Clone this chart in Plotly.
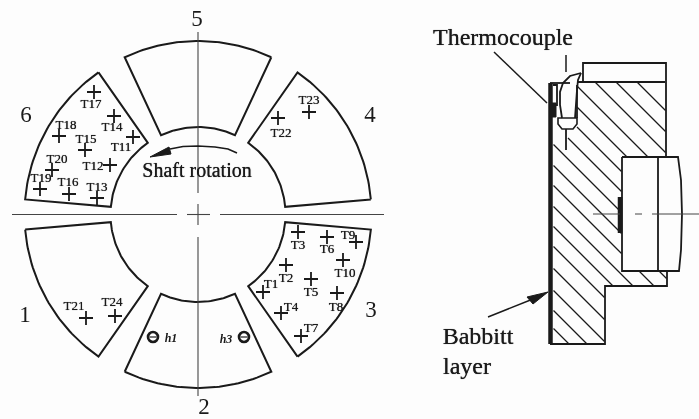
import numpy as np
import plotly.graph_objects as go

INK = "#1a1a1a"
SERIF = "Liberation Serif"
HEAVY = "0 0 0.7px #1a1a1a"

# ---- left view: six pads around the shaft centre ----
centre = (198, 214.5)
r_inner, r_outer = 87.5, 173.5
pad_start_deg = [5, 65, 125, 185, 245, 305]
pad_span_deg = 50

pad_numbers = ["4", "5", "6", "1", "2", "3"]
pad_number_x = [370, 197, 26, 25, 204, 371]
pad_number_y = [116, 20, 116, 316, 408, 311]

sensor_names = ["T1","T2","T3","T4","T5","T6","T7","T8","T9","T10","T11","T12",
                "T13","T14","T15","T16","T17","T18","T19","T20","T21","T22","T23","T24"]
sensor_x = [263,286,298,281,311,327,301,337,356,343,133,110,97,114,85,69,94,59,40,52,86,278,309,115]
sensor_y = [292,265,232,313,279,237,336,293,242,260,137,165,198,116,150,194,92,136,189,170,318,118,112,316]
label_x = [271,286,298,291,311,327,311,336,348,345,121,93,97,112,86,68,91,66,41,57,74,281,309,112]
label_y = [285,279,246,308,293,250,329,308,236,274,148,167,188,128,140,183,105,126,179,160,307,134,101,303]

probe_x = [153, 244]
probe_y = [337, 337]
probe_names = ["h1", "h3"]
probe_label_x = [171, 226]
probe_label_y = [339, 340]

rotation_x = [237, 228, 215, 198, 183, 170]
rotation_y = [153, 149, 147, 146, 146.5, 149]
rotation_head_x = [150, 169, 171, 150]
rotation_head_y = [157, 147, 154, 157]

centre_v_x = [[198, 198], [198, 198], [198, 198]]
centre_v_y = [[32, 193], [204, 225], [237, 396]]
centre_h_x = [[12, 177], [187, 210], [220, 384]]
centre_h_y = [[214.5, 214.5]] * 3

# ---- right view: bearing section ----
section_outlines = [
    ([550, 570], [83, 83]),
    ([577, 665], [82, 82]),
    ([583, 583, 666, 666], [82, 63, 63, 157]),
    ([622, 678, 681, 682, 681, 679, 623, 622, 622], [157, 157, 180, 214, 250, 271, 271, 271, 157]),
    ([658, 658], [157, 271]),
    ([667, 667, 605, 605, 550], [271, 286, 286, 344, 344]),
    ([577, 577], [85, 118]),
    ([553, 557, 557, 553], [85, 85, 105, 105]),
    ([566, 566], [129, 150]),
]
thick_x = [[550.5, 550.5], [620, 620]]
thick_y = [[83, 344], [197, 233]]
blob_x = [551, 556, 556, 551, 551]
blob_y = [103, 103, 117, 117, 103]

tc_left_x = [581, 570, 563, 560, 560, 562]
tc_left_y = [73, 76, 83, 92, 105, 118]
tc_right_x = [581, 578, 577, 576, 575]
tc_right_y = [73, 80, 90, 105, 118]
tc_nut_x = [558, 577, 577, 573, 562, 558, 558, 577]
tc_nut_y = [118, 118, 124, 129, 129, 124, 118, 118]

leader_x = [[494, 547], [566, 566], [488, 533]]
leader_y = [[52, 103], [55, 72], [317, 299]]
babbitt_head_x = [548, 527, 533, 548]
babbitt_head_y = [292, 297, 304, 292]

axis_dash_x = [[593, 620], [635, 642], [652, 699]]
axis_dash_y = [[214, 214]] * 3

hatch_offsets = [-555, -534, -513, -491, -470, -450, -430, -409, -388, -368,
                 -347, -327, -307, -285, -263, -243, -225]

text_labels = ["Thermocouple", "Babbitt", "layer", "Shaft rotation"]
text_x = [503, 478, 467, 197]
text_y = [39, 338, 368, 172]
text_sizes = [24, 24, 24, 20]


def in_section(x, y):
    body = ((553 < x < 666) and (82 < y < 157)) or ((553 < x < 622) and (157 <= y < 271)) \
        or ((553 < x < 667) and (271 <= y < 286)) or ((553 < x < 605) and (286 <= y < 344))
    hole = ((x < 577) and (y < 128)) or ((x < 568) and (y < 138))
    return body and not hole


def add_lines(fig, xs, ys, width=1.8, color=INK, fill=None):
    fig.add_trace(go.Scatter(x=xs, y=ys, mode="lines", hoverinfo="skip", showlegend=False,
                             line=dict(color=color, width=width), fill=fill,
                             fillcolor=color if fill else None))


fig = go.Figure()

# pads
for a0 in pad_start_deg:
    t_out = np.radians(np.linspace(a0, a0 + pad_span_deg, 40))
    t_in = t_out[::-1]
    xs = np.r_[centre[0] + r_outer * np.cos(t_out), centre[0] + r_inner * np.cos(t_in)]
    ys = np.r_[centre[1] - r_outer * np.sin(t_out), centre[1] - r_inner * np.sin(t_in)]
    add_lines(fig, np.r_[xs, xs[0]], np.r_[ys, ys[0]], width=2)

# centre lines
for xs, ys in zip(centre_v_x, centre_v_y):
    add_lines(fig, xs, ys, width=1.1, color="#444444")
for xs, ys in zip(centre_h_x, centre_h_y):
    add_lines(fig, xs, ys, width=1.1, color="#444444")

# rotation arrow
add_lines(fig, rotation_x, rotation_y, width=1.6)
add_lines(fig, rotation_head_x, rotation_head_y, width=1, fill="toself")

# hatching
for c in hatch_offsets:
    xs, ys = [], []
    inside = False
    for x in np.arange(548, 672, 0.5):
        y = x + c
        if in_section(x, y):
            xs.append(x); ys.append(y); inside = True
        elif inside:
            xs.append(None); ys.append(None); inside = False
    add_lines(fig, xs, ys, width=1.3)

# section
for xs, ys in section_outlines:
    add_lines(fig, xs, ys, width=1.8)
for xs, ys in zip(thick_x, thick_y):
    add_lines(fig, xs, ys, width=4.5)
add_lines(fig, blob_x, blob_y, width=1, fill="toself")
add_lines(fig, tc_left_x, tc_left_y, width=1.8)
add_lines(fig, tc_right_x, tc_right_y, width=1.8)
add_lines(fig, tc_nut_x, tc_nut_y, width=1.6)
for xs, ys in zip(leader_x, leader_y):
    add_lines(fig, xs, ys, width=1.5)
add_lines(fig, babbitt_head_x, babbitt_head_y, width=1, fill="toself")
for xs, ys in zip(axis_dash_x, axis_dash_y):
    add_lines(fig, xs, ys, width=1, color="#444444")

# sensors and probes
fig.add_trace(go.Scatter(x=sensor_x, y=sensor_y, mode="markers", hoverinfo="skip", showlegend=False,
                         marker=dict(symbol="cross-thin", size=10, color=INK, line=dict(color=INK, width=1.8))))
fig.add_trace(go.Scatter(x=probe_x, y=probe_y, mode="markers", hoverinfo="skip", showlegend=False,
                         marker=dict(symbol="circle-open", size=10, color=INK, line=dict(color=INK, width=2.6))))
fig.add_trace(go.Scatter(x=probe_x, y=probe_y, mode="markers", hoverinfo="skip", showlegend=False,
                         marker=dict(symbol="line-ew", size=5, color=INK, line=dict(color=INK, width=1.2))))

# text
fig.add_trace(go.Scatter(x=label_x, y=label_y, text=sensor_names, mode="text", hoverinfo="skip", showlegend=False,
                         textposition="middle center",
                         textfont=dict(family=SERIF, size=13, color=INK, shadow=HEAVY)))
fig.add_trace(go.Scatter(x=pad_number_x, y=pad_number_y, text=pad_numbers, mode="text", hoverinfo="skip", showlegend=False,
                         textposition="middle center", textfont=dict(family=SERIF, size=23, color=INK)))
fig.add_trace(go.Scatter(x=probe_label_x, y=probe_label_y, text=[f"<b><i>{n}</i></b>" for n in probe_names],
                         mode="text", hoverinfo="skip", showlegend=False,
                         textposition="middle center", textfont=dict(family=SERIF, size=12, color=INK)))
fig.add_trace(go.Scatter(x=text_x, y=text_y, text=text_labels, mode="text", hoverinfo="skip", showlegend=False,
                         textposition="middle center",
                         textfont=dict(family=SERIF, size=text_sizes, color=INK, shadow=HEAVY)))

fig.update_layout(width=699, height=419, margin=dict(l=0, r=0, t=0, b=0),
                  paper_bgcolor="#fdfdfd", plot_bgcolor="#fdfdfd", showlegend=False,
                  xaxis=dict(range=[0, 699], visible=False, fixedrange=True),
                  yaxis=dict(range=[419, 0], visible=False, fixedrange=True))

fig.write_html("out.html", config={"displayModeBar": False},
               post_script="document.body.style.margin='0';document.body.style.overflow='hidden';"
                           "document.querySelector('.plotly-graph-div').style.filter='blur(0.55px)';")
